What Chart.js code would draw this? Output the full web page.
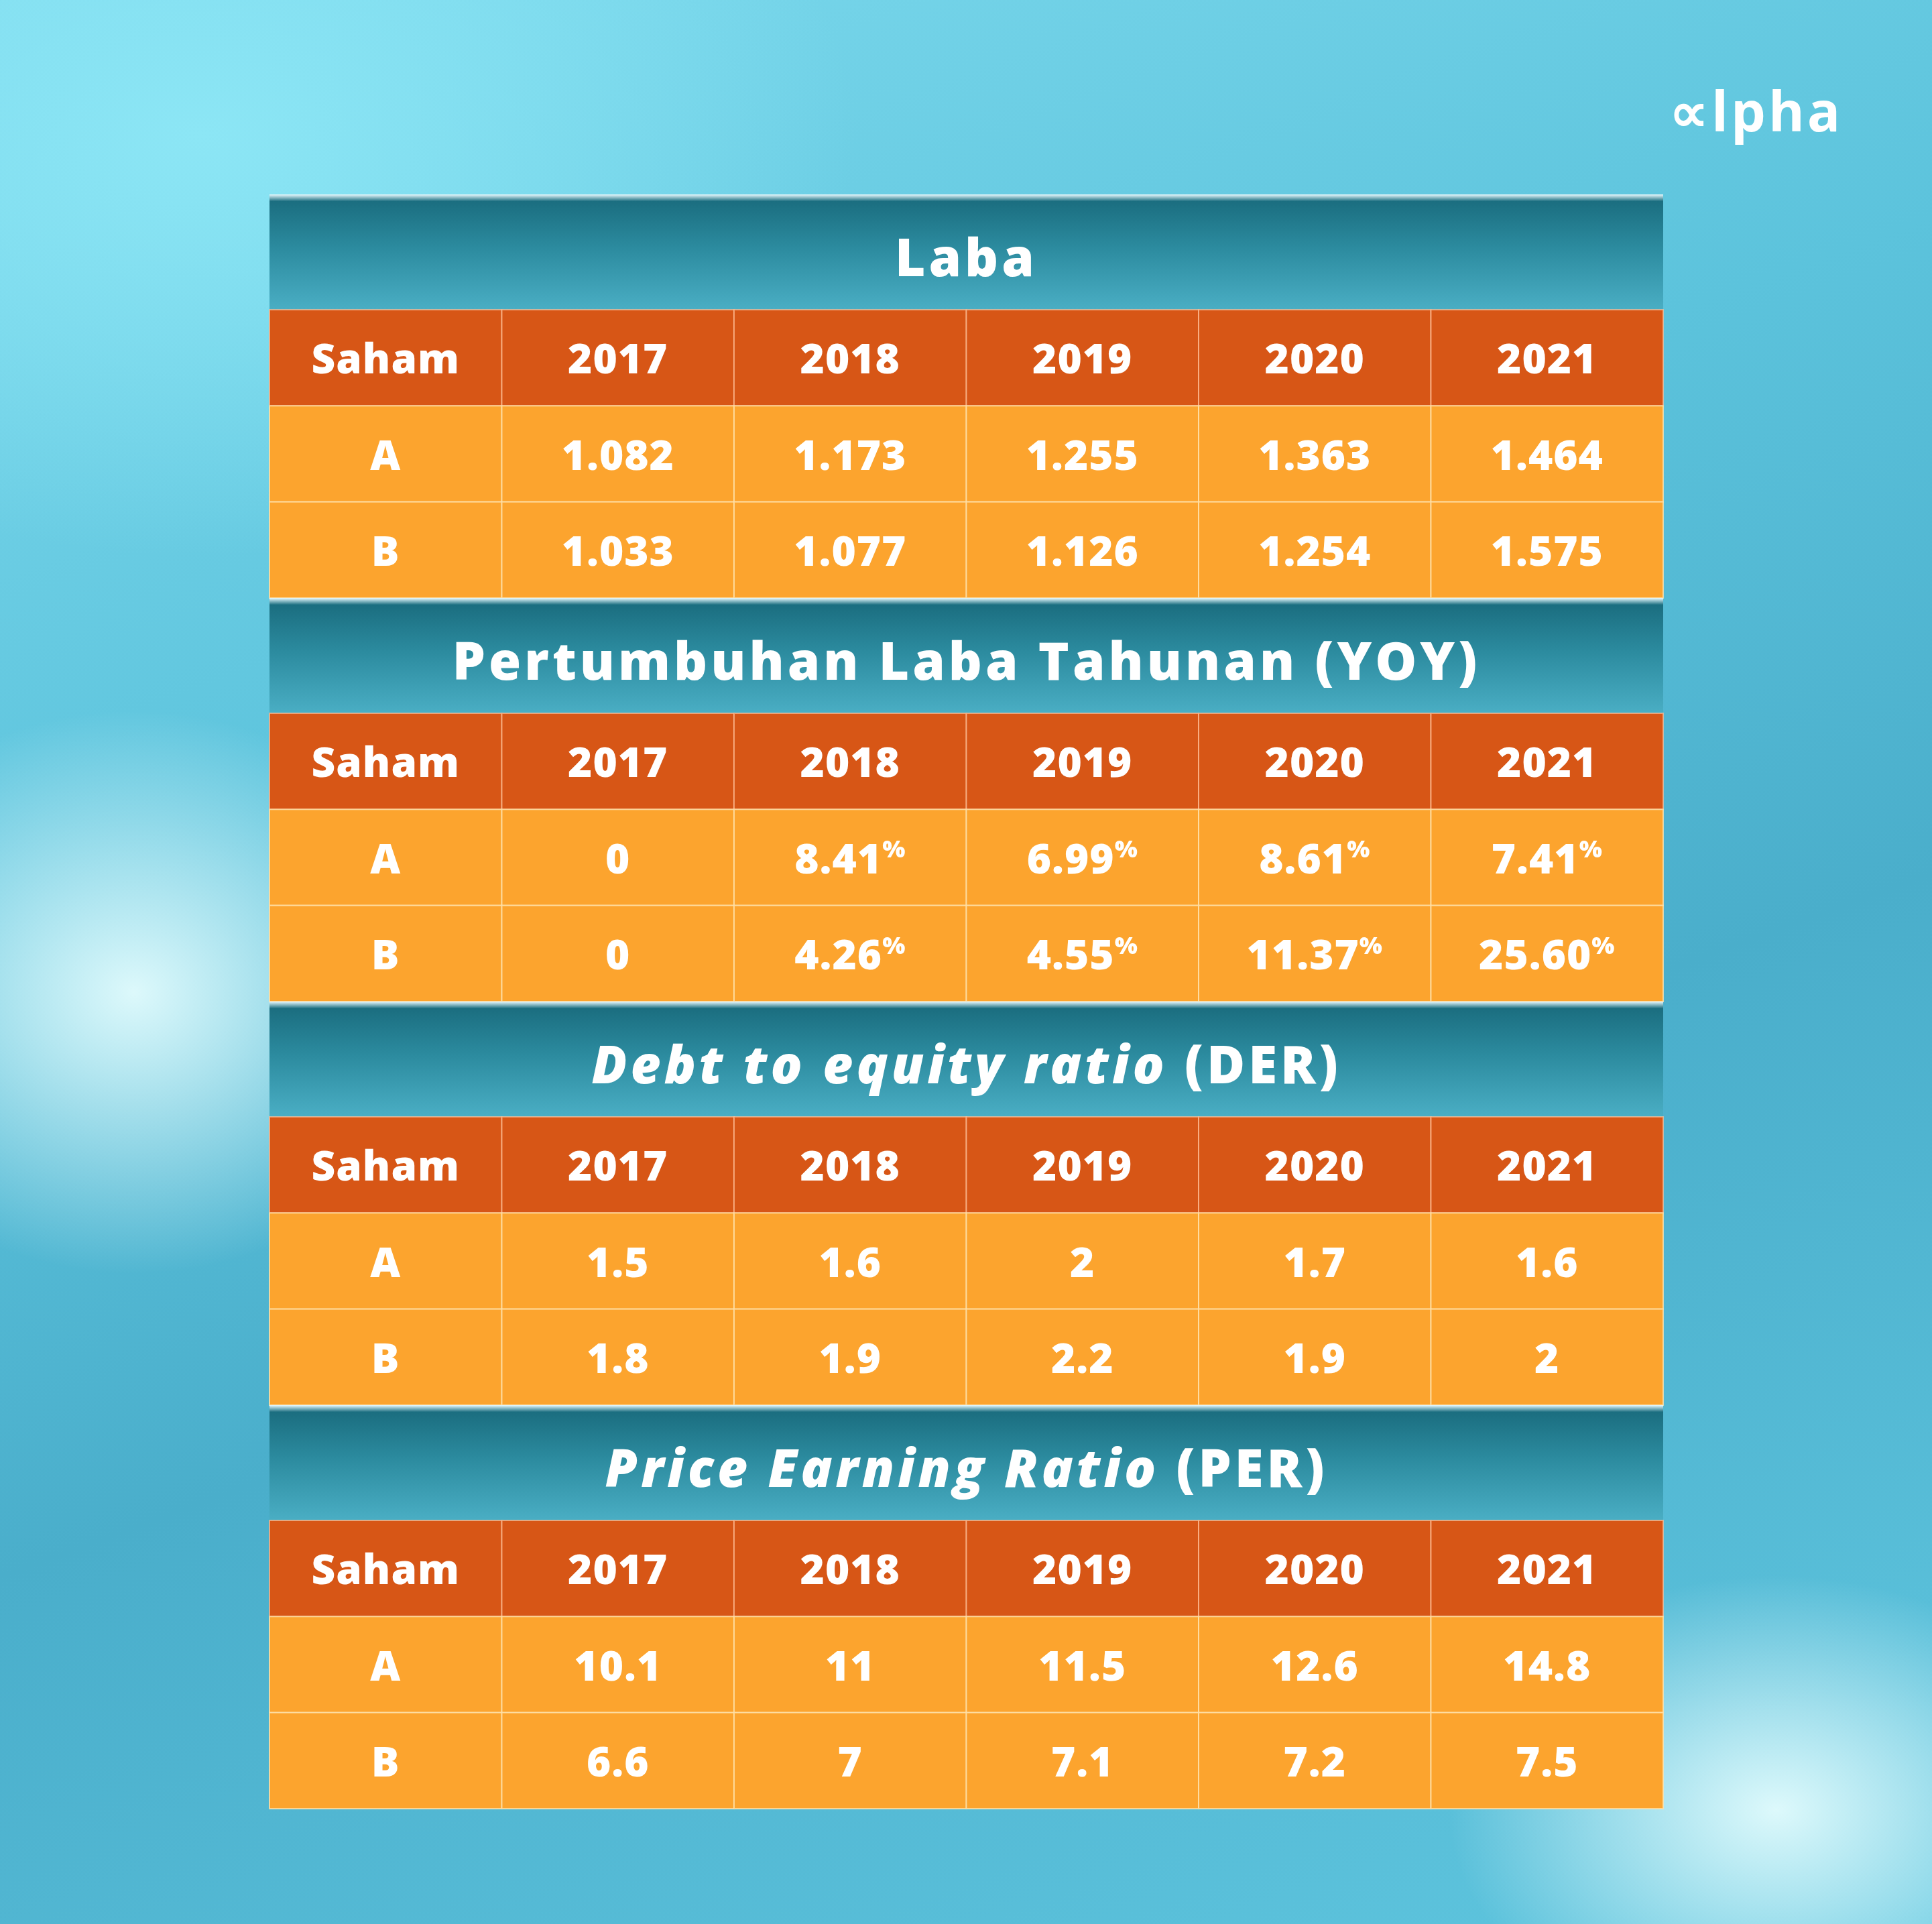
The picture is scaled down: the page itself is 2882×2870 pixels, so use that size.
<!DOCTYPE html>
<html>
<head>
<meta charset="utf-8">
<script src="https://cdn.jsdelivr.net/npm/chart.js@4"></script>
<style>
  html, body { margin: 0; padding: 0; }
  body {
    width: 2882px; height: 2870px; overflow: hidden; position: relative;
    background:
      radial-gradient(ellipse 700px 600px at 200px 1480px, rgba(235,255,255,0.9), rgba(235,255,255,0) 70%),
      radial-gradient(ellipse 700px 500px at 2650px 2700px, rgba(235,255,255,0.9), rgba(235,255,255,0) 70%),
      radial-gradient(ellipse 1400px 900px at 300px 200px, rgba(140,230,245,1), rgba(140,230,245,0) 70%),
      linear-gradient(160deg, #7fdbee 0%, #5cc3dc 35%, #4aaecb 60%, #5fc6df 100%);
  }
  #logo {
    position: absolute; left: 2490px; top: 108px;
    font: 700 82px "Open Sans", sans-serif; color: #fff; letter-spacing: 4px;
  }
  canvas { position: absolute; left: 0; top: 0; }
</style>
</head>
<body>
<div id="logo">∝lpha</div>
<canvas id="c" width="2882" height="2870"></canvas>
<script>
const years = ['2017', '2018', '2019', '2020', '2021'];
const saham = ['A', 'B'];
const labaA = [1.082, 1.173, 1.255, 1.363, 1.464];
const labaB = [1.033, 1.077, 1.126, 1.254, 1.575];
const yoyA = [0, 8.41, 6.99, 8.61, 7.41];
const yoyB = [0, 4.26, 4.55, 11.37, 25.60];
const derA = [1.5, 1.6, 2, 1.7, 1.6];
const derB = [1.8, 1.9, 2.2, 1.9, 2];
const perA = [10.1, 11, 11.5, 12.6, 14.8];
const perB = [6.6, 7, 7.1, 7.2, 7.5];

const fmtLaba = v => v.toFixed(3);
const fmtYoy = v => v === 0 ? '0' : { num: v.toFixed(2), sup: '%' };
const fmtPlain = v => String(v);

const sections = [
  { title: [{ t: 'Laba', i: false }], rows: [labaA, labaB], fmt: fmtLaba },
  { title: [{ t: 'Pertumbuhan Laba Tahunan (YOY)', i: false }], rows: [yoyA, yoyB], fmt: fmtYoy },
  { title: [{ t: 'Debt to equity ratio ', i: true }, { t: '(DER)', i: false }], rows: [derA, derB], fmt: fmtPlain },
  { title: [{ t: 'Price Earning Ratio ', i: true }, { t: '(PER)', i: false }], rows: [perA, perB], fmt: fmtPlain }
];

const TITLE_H = 1.2;
const SEC_H = TITLE_H + 3;
const FONT = '"Open Sans", "Lato", sans-serif';

const tablePlugin = {
  id: 'tables',
  afterDraw(chart) {
    const ctx = chart.ctx;
    const xs = chart.scales.x, ys = chart.scales.y;
    const X = v => xs.getPixelForValue(v);
    const Y = v => ys.getPixelForValue(v);
    ctx.save();
    ctx.textBaseline = 'middle';
    sections.forEach((sec, si) => {
      const y0 = si * SEC_H;
      // title band
      const ty0 = Y(y0), ty1 = Y(y0 + TITLE_H);
      const g = ctx.createLinearGradient(0, ty0, 0, ty1);
      g.addColorStop(0, '#e9fbff');
      g.addColorStop(0.06, '#1b6e80');
      g.addColorStop(0.45, '#2b8a9e');
      g.addColorStop(1, '#4aaec4');
      ctx.fillStyle = g;
      ctx.fillRect(X(0), ty0, X(6) - X(0), ty1 - ty0);
      // title text
      ctx.fillStyle = '#fff';
      ctx.letterSpacing = '5px';
      const parts = sec.title.map(p => ({ ...p, f: (p.i ? 'italic ' : '') + '800 78px ' + FONT }));
      let w = 0;
      parts.forEach(p => { ctx.font = p.f; p.w = ctx.measureText(p.t).width; w += p.w; });
      let tx = X(3) - w / 2;
      ctx.textAlign = 'left';
      parts.forEach(p => { ctx.font = p.f; ctx.fillText(p.t, tx, (ty0 + ty1) / 2 + 14); tx += p.w; });
      ctx.letterSpacing = '1px';
      // header row and data rows
      const rowsY = y0 + TITLE_H;
      for (let r = 0; r < 3; r++) {
        const a = Y(rowsY + r), b = Y(rowsY + r + 1);
        for (let c = 0; c < 6; c++) {
          const l = X(c), rr = X(c + 1);
          ctx.fillStyle = r === 0 ? '#d75616' : '#fca42e';
          ctx.fillRect(l, a, rr - l, b - a);
          ctx.strokeStyle = r === 0 ? 'rgba(255,190,150,0.7)' : 'rgba(255,225,170,0.8)';
          ctx.lineWidth = 2;
          ctx.strokeRect(l, a, rr - l, b - a);
          let txt;
          if (r === 0) txt = c === 0 ? 'Saham' : years[c - 1];
          else txt = c === 0 ? saham[r - 1] : sec.fmt(sec.rows[r - 1][c - 1]);
          const cx = (l + rr) / 2, cy = (a + b) / 2 + 6;
          ctx.fillStyle = '#fff';
          ctx.font = '800 62px ' + FONT;
          if (typeof txt === 'object') {
            const nw = ctx.measureText(txt.num).width;
            ctx.font = '800 36px ' + FONT;
            const sw = ctx.measureText(txt.sup).width;
            const sx = cx - (nw + sw) / 2;
            ctx.textAlign = 'left';
            ctx.font = '800 62px ' + FONT;
            ctx.fillText(txt.num, sx, cy);
            ctx.font = '800 36px ' + FONT;
            ctx.fillText(txt.sup, sx + nw, cy - 16);
          } else {
            ctx.textAlign = 'center';
            ctx.fillText(txt, cx, cy);
          }
        }
      }
    });
    ctx.restore();
  }
};

new Chart(document.getElementById('c'), {
  type: 'scatter',
  data: { datasets: [] },
  options: {
    responsive: false,
    animation: false,
    devicePixelRatio: 1,
    layout: { padding: { left: 402, right: 2882 - 2481, top: 290, bottom: 2870 - 2698 } },
    plugins: { legend: { display: false }, tooltip: { enabled: false } },
    scales: {
      x: { type: 'linear', min: 0, max: 6, display: false },
      y: { type: 'linear', min: 0, max: SEC_H * 4, reverse: true, display: false }
    }
  },
  plugins: [tablePlugin]
});
</script>
</body>
</html>
